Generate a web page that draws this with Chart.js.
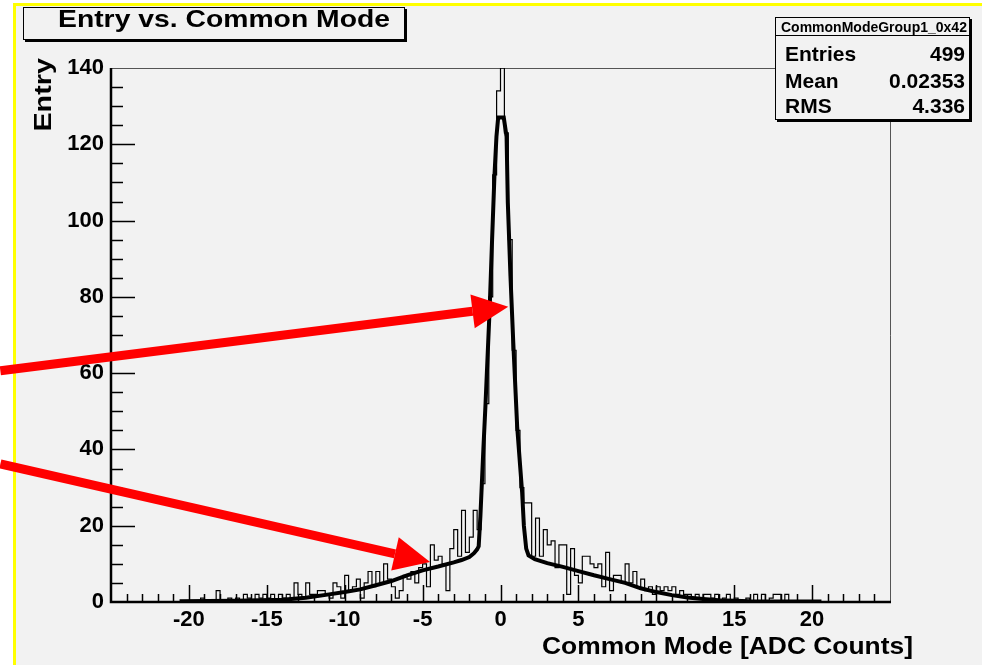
<!DOCTYPE html>
<html>
<head>
<meta charset="utf-8">
<script src="https://cdn.jsdelivr.net/npm/chart.js@4.4.0/dist/chart.umd.min.js"></script>
<style>
  html, body { margin: 0; padding: 0; background: #fff; width: 982px; height: 665px; overflow: hidden; }
  #pad { position: absolute; left: 13px; top: 3px; width: 990px; height: 680px; background: #f2f2f2;
         border-left: 3px solid #ffff00; border-top: 3px solid #ffff00; }
  #chart { position: absolute; left: 0; top: 0; }
  .box { position: absolute; background: #f2f2f2; border: 1px solid #000; box-shadow: 2px 2px 0 #000;
         font-family: 'Liberation Sans', Arial, sans-serif; font-weight: bold; color: #000; }
  #title { left: 23px; top: 7px; width: 380px; height: 31px; }
  #title span { position: absolute; left: 34px; top: -3px; font-size: 24px; line-height: 28px;
                white-space: nowrap; transform: scaleX(1.18); transform-origin: left center; }
  #stats { left: 775px; top: 17px; width: 193px; height: 101px; }
  #stats .head { position: absolute; left: 5px; top: 1px; font-size: 14px; line-height: 16px; white-space: nowrap; }
  #stats .sep { position: absolute; left: 0; right: 0; top: 17px; border-top: 1px solid #000; }
  #stats .row { position: absolute; left: 9px; right: 4px; font-size: 21px; line-height: 26px; }
  #stats .row span:last-child { position: absolute; right: 0; }
</style>
</head>
<body>
<div id="pad"></div>
<canvas id="chart" width="982" height="665"></canvas>
<div class="box" id="title"><span>Entry vs. Common Mode</span></div>
<div class="box" id="stats">
  <div class="head">CommonModeGroup1_0x42</div>
  <div class="sep"></div>
  <div class="row" style="top:23px"><span>Entries</span><span>499</span></div>
  <div class="row" style="top:50px"><span>Mean</span><span>0.02353</span></div>
  <div class="row" style="top:75px"><span>RMS</span><span>4.336</span></div>
</div>
<script>
// histogram: 200 bins of 0.25 from -25 to 25
const binLow = -25;
const binWidth = 0.25;
const counts = [
    0, 0, 0, 0, 0, 0, 0, 0, 0, 0, 0, 0, 0, 0, 0, 0, 0, 0, 0, 0,          // -25 .. -20
    0, 0, 0, 1, 0, 0, 0, 3, 0, 0, 1, 0, 1, 0, 2, 1, 0, 2, 1, 2,          // -20 .. -15
    1, 2, 0, 2, 1, 2, 1, 5, 2, 1, 5, 2, 2, 3, 3, 2, 1, 5, 4, 1,          // -15 .. -10
    7, 3, 4, 6, 1, 5, 8, 4, 8, 5, 10, 6, 4, 1, 3, 7, 6, 8, 5, 9,         // -10 .. -5
    10, 4, 15, 11, 12, 10, 3, 14, 19, 12, 24, 13, 17, 24, 19, 31, 52, 80, 112, 134, // -5 .. 0
    140, 123, 95, 66, 45, 30, 26, 26, 12, 22, 12, 19, 15, 16, 9, 15, 15, 2, 14, 7, // 0 .. 5
    5, 12, 12, 10, 9, 10, 4, 13, 3, 7, 7, 5, 10, 5, 8, 4, 6, 3, 4, 2,    // 5 .. 10
    4, 3, 4, 3, 4, 2, 3, 2, 2, 1, 2, 1, 2, 2, 1, 2, 0, 1, 2, 0,          // 10 .. 15
    1, 0, 0, 1, 0, 2, 0, 2, 0, 1, 2, 2, 0, 2, 0, 0, 0, 0, 0, 0,          // 15 .. 20
    0, 0, 0, 0, 0, 0, 0, 0, 0, 0, 0, 0, 0, 0, 0, 0, 0, 0, 0, 0           // 20 .. 25
];

// fitted curve
const fitX = [-20.6, -17, -14, -12.5, -11, -10, -9, -8, -7, -6, -5, -4, -3, -2.5, -2, -1.7, -1.5, -1.4,
              -1.29, -1.1, -0.96, -0.69, -0.54, -0.39, -0.26, -0.15, 0.21, 0.39, 0.47, 0.64, 0.82, 1.07,
              1.39, 1.5, 1.65, 1.8, 2.2, 3, 4, 5, 6, 7, 8, 9, 10, 11, 12, 13, 14, 16, 20.6];
const fitY = [0.2, 0.3, 0.6, 1.1, 2.0, 2.6, 3.3, 4.4, 5.5, 7.0, 8.3, 9.3, 10.4, 11.0, 11.8, 12.8, 13.8, 14.6,
              22.5, 40, 52, 77.5, 95, 111.6, 122, 127, 127, 122, 104.7, 85.4, 68, 46,
              28.6, 20, 14, 12.2, 11.2, 10.2, 9.2, 8.1, 7.0, 6.0, 5.0, 3.6, 2.6, 1.8, 1.2, 0.8, 0.45, 0.2, 0.1];

const xTickLabels = [-20, -15, -10, -5, 0, 5, 10, 15, 20];
const yTickLabels = [0, 20, 40, 60, 80, 100, 120, 140];

// red annotation arrows, in data units
const arrows = [
    { from: [-32.1, 60.6], to: [0.5, 77.4] },
    { from: [-32.1, 36.2], to: [-4.52, 10.5] }
];

const FONT = "'Liberation Sans', Arial, sans-serif";

function drawStretched(ctx, text, x, y, sx, rot, align) {
    ctx.save();
    ctx.translate(x, y);
    if (rot) ctx.rotate(rot);
    ctx.scale(sx, 1);
    ctx.textAlign = align;
    ctx.textBaseline = 'middle';
    ctx.fillText(text, 0, 0);
    ctx.restore();
}

const rootFrame = {
    id: 'rootFrame',
    beforeDatasetsDraw(chart) {
        const { ctx, chartArea: a, scales: { x, y } } = chart;
        ctx.save();
        // thin frame top / right
        ctx.strokeStyle = '#555';
        ctx.lineWidth = 1;
        ctx.beginPath();
        ctx.moveTo(a.left, a.top + 0.5);
        ctx.lineTo(a.right + 0.5, a.top + 0.5);
        ctx.lineTo(a.right + 0.5, a.bottom);
        ctx.stroke();
        // ticks, inside the frame
        ctx.strokeStyle = '#000';
        ctx.lineWidth = 1.5;
        ctx.beginPath();
        for (let v = -24; v <= 24; v++) {
            const px = Math.round(x.getPixelForValue(v)) + 0.5;
            const len = v % 5 === 0 ? 17 : 8;
            ctx.moveTo(px, a.bottom);
            ctx.lineTo(px, a.bottom - len);
        }
        for (let v = 5; v < 140; v += 5) {
            const py = Math.round(y.getPixelForValue(v)) + 0.5;
            const len = v % 20 === 0 ? 24 : 12;
            ctx.moveTo(a.left, py);
            ctx.lineTo(a.left + len, py);
        }
        ctx.stroke();
        ctx.restore();
    },
    afterDatasetsDraw(chart) {
        const { ctx, chartArea: a } = chart;
        ctx.save();
        ctx.strokeStyle = '#000';
        ctx.lineWidth = 2.5;
        ctx.beginPath();
        ctx.moveTo(a.left, a.top);
        ctx.lineTo(a.left, a.bottom);
        ctx.lineTo(a.right + 1, a.bottom);
        ctx.stroke();
        // axis titles
        ctx.fillStyle = '#000';
        ctx.font = 'bold 24px ' + FONT;
        drawStretched(ctx, 'Common Mode [ADC Counts]', 913, 647, 1.1, 0, 'right');
        drawStretched(ctx, 'Entry', 44, 58, 1.2, -Math.PI / 2, 'right');
        ctx.restore();
    },
    afterDraw(chart) {
        const { ctx, scales: { x, y } } = chart;
        ctx.save();
        ctx.fillStyle = '#ff0000';
        ctx.strokeStyle = '#ff0000';
        arrows.forEach(ar => {
            const x0 = x.getPixelForValue(ar.from[0]), y0 = y.getPixelForValue(ar.from[1]);
            const x1 = x.getPixelForValue(ar.to[0]), y1 = y.getPixelForValue(ar.to[1]);
            const ang = Math.atan2(y1 - y0, x1 - x0);
            const headLen = 36, headHalf = 17;
            const bx = x1 - headLen * Math.cos(ang), by = y1 - headLen * Math.sin(ang);
            ctx.lineWidth = 9;
            ctx.beginPath();
            ctx.moveTo(x0, y0);
            ctx.lineTo(bx, by);
            ctx.stroke();
            ctx.beginPath();
            ctx.moveTo(x1, y1);
            ctx.lineTo(bx + headHalf * Math.sin(ang), by - headHalf * Math.cos(ang));
            ctx.lineTo(bx - headHalf * Math.sin(ang), by + headHalf * Math.cos(ang));
            ctx.closePath();
            ctx.fill();
        });
        ctx.restore();
    }
};

Chart.defaults.font.family = FONT;
Chart.defaults.font.weight = 'bold';
Chart.defaults.color = '#000';

new Chart(document.getElementById('chart'), {
    type: 'line',
    data: {
        datasets: [
            {
                label: 'fit',
                data: fitX.map((v, i) => ({ x: v, y: fitY[i] })),
                borderColor: '#000',
                borderWidth: 4,
                pointRadius: 0,
                tension: 0,
                order: 0
            },
            {
                label: 'CommonModeGroup1_0x42',
                data: counts.map((c, i) => ({ x: binLow + binWidth * (i + 0.5), y: c })),
                borderColor: '#000',
                borderWidth: 1.2,
                pointRadius: 0,
                stepped: 'middle',
                order: 1
            }
        ]
    },
    options: {
        responsive: false,
        devicePixelRatio: 1,
        animation: false,
        layout: { padding: { top: 68, right: 92, left: 0, bottom: 0 } },
        plugins: { legend: { display: false }, tooltip: { enabled: false }, title: { display: false } },
        scales: {
            x: {
                type: 'linear', min: -25, max: 25,
                grid: { display: false, drawTicks: false },
                border: { display: false },
                ticks: {
                    stepSize: 5, autoSkip: false, maxRotation: 0, padding: 5,
                    font: { size: 22, weight: 'bold' },
                    callback: v => xTickLabels.includes(v) ? String(v) : null
                },
                afterFit: s => { s.height = 63; }
            },
            y: {
                min: 0, max: 140,
                grid: { display: false, drawTicks: false },
                border: { display: false },
                ticks: {
                    stepSize: 20, padding: 7,
                    font: { size: 22, weight: 'bold' },
                    callback: v => yTickLabels.includes(v) ? String(v) : null
                },
                afterFit: s => { s.width = 111; }
            }
        }
    },
    plugins: [rootFrame]
});
</script>
</body>
</html>
